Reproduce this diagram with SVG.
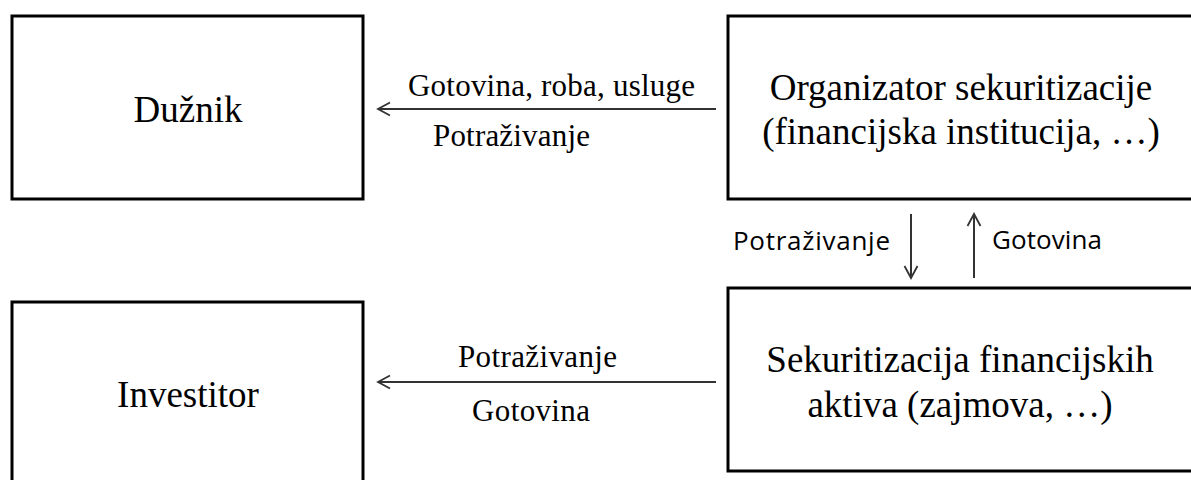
<svg xmlns="http://www.w3.org/2000/svg" width="1191" height="480" viewBox="0 0 1191 480">
<style>
.box{fill:#fff;stroke:#000;stroke-width:3}
.lbl{font-family:"Liberation Serif","Times New Roman",serif;font-size:37px;fill:#000;text-anchor:middle}
.el{font-family:"Liberation Serif","Times New Roman",serif;font-size:31px;fill:#000}
.sl{font-family:"Open Sans","Liberation Sans",sans-serif;font-size:26px;fill:#000}
.con{stroke:#333;stroke-width:2;fill:none}
</style>
<defs>
<marker id="ah" markerWidth="16" markerHeight="16" refX="14" refY="8" orient="auto" markerUnits="userSpaceOnUse">
<path d="M2,1.5 L14,8 L2,14.5" fill="none" stroke="#333" stroke-width="1.8"/>
</marker>
</defs>
<g id="duznik">
<rect class="box" x="12" y="16" width="351" height="183"/>
<text class="lbl" x="188" y="122">Dužnik</text>
</g>
<g id="investitor">
<rect class="box" x="12" y="302" width="351" height="200"/>
<text class="lbl" x="188" y="407">Investitor</text>
</g>
<g id="organizator">
<rect class="box" x="728" y="16" width="480" height="183"/>
<text class="lbl" x="961" y="100">Organizator sekuritizacije</text>
<text class="lbl" x="961" y="144">(financijska institucija, …)</text>
</g>
<g id="sekuritizacija">
<rect class="box" x="728" y="288" width="480" height="183"/>
<text class="lbl" x="960" y="372">Sekuritizacija financijskih</text>
<text class="lbl" x="960" y="417">aktiva (zajmova, …)</text>
</g>
<g id="connectors">
<line class="con" x1="716" y1="109" x2="378" y2="109" marker-end="url(#ah)"/>
<line class="con" x1="716" y1="382" x2="378" y2="382" marker-end="url(#ah)"/>
<line class="con" x1="911" y1="214" x2="911" y2="278" marker-end="url(#ah)"/>
<line class="con" x1="974" y1="278" x2="974" y2="214" marker-end="url(#ah)"/>
<text class="el" x="408" y="96" textLength="287">Gotovina, roba, usluge</text>
<text class="el" x="433" y="146" textLength="157">Potraživanje</text>
<text class="el" x="458" y="367" textLength="159">Potraživanje</text>
<text class="el" x="472" y="421" textLength="118">Gotovina</text>
<text class="sl" x="733" y="250" textLength="157">Potraživanje</text>
<text class="sl" x="992" y="249" textLength="110">Gotovina</text>
</g>
</svg>
